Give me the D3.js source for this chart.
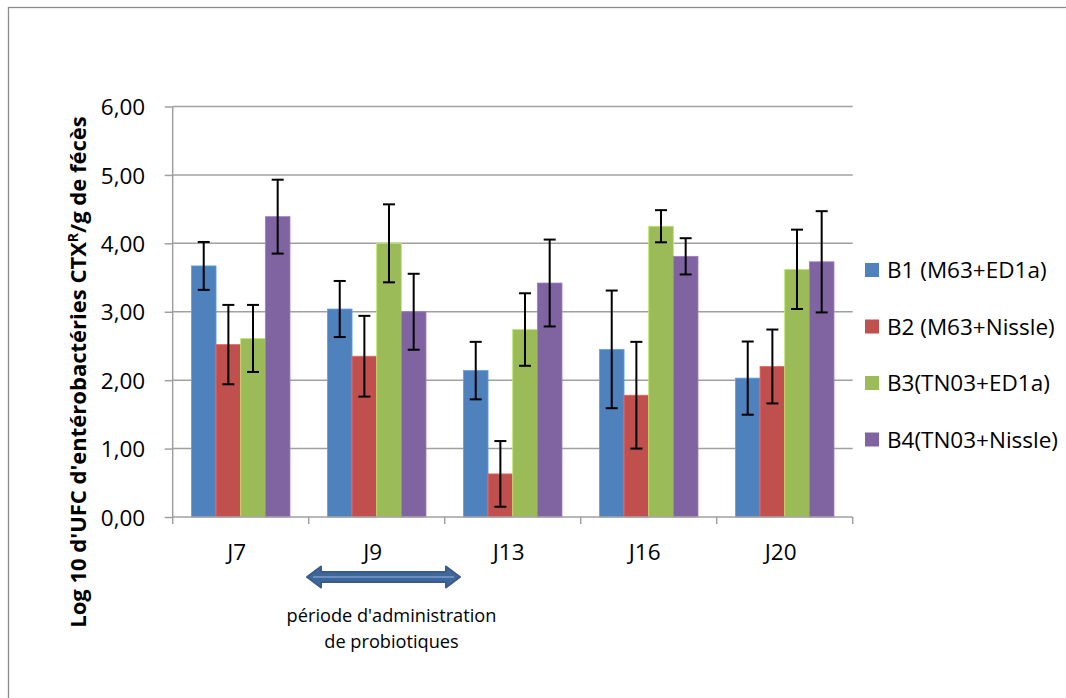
<!DOCTYPE html>
<html><head><meta charset="utf-8">
<script src="https://cdn.jsdelivr.net/npm/d3@7"></script>
<style>body{margin:0;background:#fff}svg{display:block}</style>
</head><body>
<script>
const categories = ["J7","J9","J13","J16","J20"];
const seriesNames = ["B1 (M63+ED1a)","B2 (M63+Nissle)","B3(TN03+ED1a)","B4(TN03+Nissle)"];
const b1 = [3.67, 3.04, 2.14, 2.45, 2.03];
const b2 = [2.52, 2.35, 0.63, 1.78, 2.20];
const b3 = [2.61, 4.00, 2.74, 4.25, 3.62];
const b4 = [4.39, 3.00, 3.42, 3.81, 3.73];
const e1 = [0.35, 0.41, 0.42, 0.86, 0.535];
const e2 = [0.58, 0.59, 0.48, 0.78, 0.54];
const e3 = [0.49, 0.57, 0.53, 0.235, 0.58];
const e4 = [0.54, 0.555, 0.635, 0.265, 0.74];
const yTicks = [0,1,2,3,4,5,6];
const colors = ["#4F81BD","#C0504D","#9BBB59","#8064A2"];

const values = [b1,b2,b3,b4], errs = [e1,e2,e3,e4];
const W=1066,H=698;
const svg = d3.select("body").append("svg").attr("width",W).attr("height",H);
const FONT = "'Open Sans', sans-serif";
const FS = 22.5;

// outer border
svg.append("rect").attr("x",8.5).attr("y",7.5).attr("width",W+10).attr("height",H+10)
  .attr("fill","none").attr("stroke","#8c8c8c").attr("stroke-width",1.3);

const x0 = d3.scaleBand().domain(categories).range([172.7,852.7]).paddingInner(0.275).paddingOuter(0.1375);
const x1 = d3.scaleBand().domain(d3.range(4)).range([0,x0.bandwidth()]);
const y = d3.scaleLinear().domain([0,6]).range([517,106.5]);

// gridlines
svg.append("g").selectAll("line").data(yTicks.filter(d=>d>0)).join("line")
  .attr("x1",172.7).attr("x2",852.7).attr("y1",d=>y(d)).attr("y2",d=>y(d))
  .attr("stroke","#a0a0a0").attr("stroke-width",1.5);

// y axis
const yAxis = d3.axisLeft(y).tickValues(yTicks).tickSize(8).tickFormat(d=>d3.format(".2f")(d).replace(".",","));
const gy = svg.append("g").attr("transform","translate(172.7,0)").call(yAxis);
gy.select(".domain").attr("stroke","#a0a0a0").attr("stroke-width",1.5).attr("d","M0,"+y(6)+"V"+y(0));
gy.selectAll(".tick line").attr("stroke","#a0a0a0").attr("stroke-width",1.5);
gy.selectAll(".tick text").attr("font-family",FONT).attr("font-size",FS).attr("fill","#000").attr("x",-27.5).attr("dy","0.36em");

// bars
const groups = svg.append("g").selectAll("g").data(categories).join("g")
  .attr("transform",c=>`translate(${x0(c)},0)`);
groups.each(function(c,ci){
  const g=d3.select(this);
  for(let s=0;s<4;s++){
    const v=values[s][ci];
    g.append("rect").attr("x",x1(s)).attr("y",y(v)).attr("width",x1.bandwidth()).attr("height",y(0)-y(v))
      .attr("fill",colors[s]).attr("stroke",d3.color(colors[s]).brighter(0.6)).attr("stroke-width",0.8);
  }
});
// x axis
const xAxisScale = d3.scaleLinear().domain([0,5]).range([172.7,852.7]);
const gx = svg.append("g");
gx.append("line").attr("x1",172.7).attr("x2",852.7).attr("y1",y(0)).attr("y2",y(0)).attr("stroke","#a0a0a0").attr("stroke-width",1.5);
gx.selectAll("line.t").data(d3.range(6)).join("line").attr("class","t")
  .attr("x1",d=>xAxisScale(d)).attr("x2",d=>xAxisScale(d)).attr("y1",y(0)).attr("y2",y(0)+7)
  .attr("stroke","#a0a0a0").attr("stroke-width",1.5);
gx.selectAll("text").data(categories).join("text")
  .attr("x",c=>x0(c)+x0.bandwidth()/2-4).attr("y",560).attr("text-anchor","middle")
  .attr("font-family",FONT).attr("font-size",FS).text(c=>c);

// error bars
groups.each(function(c,ci){
  const g=d3.select(this);
  for(let s=0;s<4;s++){
    const v=values[s][ci], e=errs[s][ci];
    const cx=x1(s)+x1.bandwidth()/2;
    const eg=g.append("g").attr("stroke","#000").attr("stroke-width",2);
    eg.append("line").attr("x1",cx).attr("x2",cx).attr("y1",y(v+e)).attr("y2",y(v-e));
    eg.append("line").attr("x1",cx-6).attr("x2",cx+6).attr("y1",y(v+e)).attr("y2",y(v+e));
    eg.append("line").attr("x1",cx-6).attr("x2",cx+6).attr("y1",y(v-e)).attr("y2",y(v-e));
  }
});

// legend
const leg = svg.append("g").selectAll("g").data(seriesNames).join("g")
  .attr("transform",(d,i)=>`translate(865,${270+i*56.5})`);
leg.append("rect").attr("x",0).attr("y",-7).attr("width",14).attr("height",14).attr("fill",(d,i)=>colors[i]);
leg.append("text").attr("x",22).attr("y",8).attr("font-family",FONT).attr("font-size",FS).text(d=>d);

// y title
const yt = svg.append("text").attr("transform","translate(86,372) rotate(-90)").attr("text-anchor","middle")
  .attr("font-family",FONT).attr("font-weight","bold").attr("font-size",22);
yt.append("tspan").text("Log 10 d'UFC d'entérobactéries CTX");
yt.append("tspan").attr("font-size",14).attr("dy",-8).text("R");
yt.append("tspan").attr("dy",8).text("/g de fécès");

// annotation arrow
const ax1=307, ax2=460, ay=577;
const hl=14, sh=5, hh=10.5;
const arrowPath = `M${ax1},${ay} L${ax1+hl},${ay-hh} L${ax1+hl},${ay-sh} L${ax2-hl},${ay-sh} L${ax2-hl},${ay-hh} L${ax2},${ay} L${ax2-hl},${ay+hh} L${ax2-hl},${ay+sh} L${ax1+hl},${ay+sh} L${ax1+hl},${ay+hh} Z`;
svg.append("path").attr("d",arrowPath).attr("fill","#3F6797").attr("stroke","#385D8A").attr("stroke-width",2).attr("stroke-linejoin","round");
svg.append("line").attr("x1",ax1+6).attr("x2",ax2-6).attr("y1",ay).attr("y2",ay).attr("stroke","#6A8FC4").attr("stroke-width",2);
svg.append("text").attr("x",391.5).attr("y",622).attr("text-anchor","middle").attr("font-family",FONT).attr("font-size",18.2).text("période d'administration");
svg.append("text").attr("x",391.5).attr("y",648).attr("text-anchor","middle").attr("font-family",FONT).attr("font-size",18.2).text("de probiotiques");
</script>
</body></html>
